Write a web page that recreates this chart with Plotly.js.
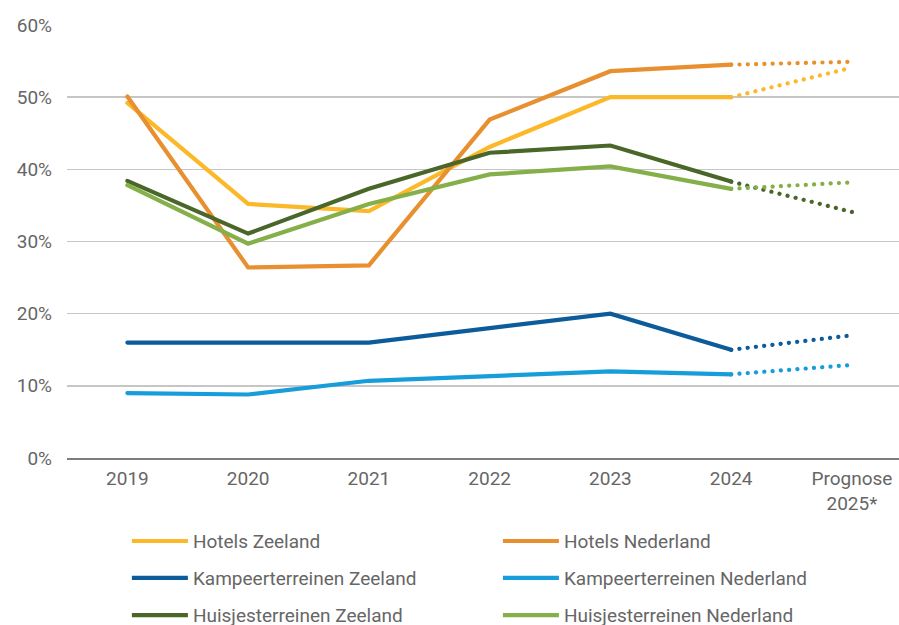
<!DOCTYPE html>
<html>
<head>
<meta charset="utf-8">
<script src="https://cdn.plot.ly/plotly-3.0.1.min.js"></script>
<style>
html,body{margin:0;padding:0;background:#fff;}
#chart{width:899px;height:625px;}
.scatterlayer .js-line{stroke-linecap:round;}
</style>
</head>
<body>
<div id="chart"></div>
<script>
const categories = ['2019','2020','2021','2022','2023','2024','Prognose<br>2025*'];
const seriesNames = ['Hotels Zeeland','Hotels Nederland','Kampeerterreinen Zeeland','Kampeerterreinen Nederland','Huisjesterreinen Zeeland','Huisjesterreinen Nederland'];
const hotelsZeeland = [49.2, 35.2, 34.2, 43.1, 50.0, 50.0, 54.1];
const hotelsNederland = [50.1, 26.4, 26.7, 46.9, 53.6, 54.5, 54.9];
const kampeerZeeland = [16.0, 16.0, 16.0, 18.0, 20.0, 15.0, 17.0];
const kampeerNederland = [9.0, 8.8, 10.7, 11.3, 12.0, 11.6, 12.9];
const huisjesZeeland = [38.4, 31.1, 37.3, 42.3, 43.3, 38.3, 34.1];
const huisjesNederland = [37.8, 29.7, 35.2, 39.3, 40.4, 37.3, 38.2];
const colors = ['#FBB92A','#E88F2F','#0C5C9B','#189DDB','#4A6629','#84AF49'];
const yTicks = [0,10,20,30,40,50,60];

const allSeries = [hotelsZeeland, hotelsNederland, kampeerZeeland, kampeerNederland, huisjesZeeland, huisjesNederland];
const legendIds = ['legend','legend','legend2','legend2','legend3','legend3'];
const nActual = 6;
const traces = [];
allSeries.forEach((vals, i) => {
  traces.push({
    type:'scatter', mode:'lines', name: seriesNames[i],
    x: categories.slice(0, nActual), y: vals.slice(0, nActual),
    line:{color: colors[i], width:4.2},
    legend: legendIds[i], showlegend:true, hoverinfo:'skip'
  });
});
allSeries.forEach((vals, i) => {
  traces.push({
    type:'scatter', mode:'lines', name: seriesNames[i] + ' prognose',
    x: categories.slice(nActual-1), y: vals.slice(nActual-1),
    line:{color: colors[i], width:4.2, dash:'0.1px,8.2px'},
    showlegend:false, hoverinfo:'skip'
  });
});

const fontFam = 'Roboto, "Open Sans", sans-serif';
const legendCommon = {
  orientation:'h', x:0.072, xanchor:'left', yanchor:'middle',
  entrywidth:300, entrywidthmode:'pixels', itemwidth:56,
  font:{family:fontFam, size:19, color:'#666666'}, bgcolor:'rgba(0,0,0,0)', traceorder:'normal'
};
const layout = {
  width:899, height:625,
  margin:{l:67, r:0, t:25, b:167, autoexpand:false},
  paper_bgcolor:'#ffffff', plot_bgcolor:'#ffffff',
  font:{family:fontFam, size:19, color:'#666666'},
  xaxis:{
    type:'category', range:[-0.5, 6.39], showgrid:false, zeroline:false,
    showline:true, linecolor:'#7d7d7d', linewidth:2, ticks:'',
    tickfont:{family:fontFam, size:19, color:'#666666'}, ticklabelstandoff:2
  },
  yaxis:{
    range:[0,60], tickvals:yTicks, ticktext:yTicks.map(v => v + '%'),
    showgrid:true, gridcolor:'#c6c6c6', gridwidth:1.5, zeroline:false, showline:false,
    ticks:'', ticklabelstandoff:14, tickfont:{family:fontFam, size:19, color:'#666666'}
  },
  legend: Object.assign({}, legendCommon, {y:-0.192}),
  legend2: Object.assign({}, legendCommon, {y:-0.277}),
  legend3: Object.assign({}, legendCommon, {y:-0.363}),
  showlegend:true
};
Plotly.newPlot('chart', traces, layout, {staticPlot:true, displayModeBar:false});
</script>
</body>
</html>
